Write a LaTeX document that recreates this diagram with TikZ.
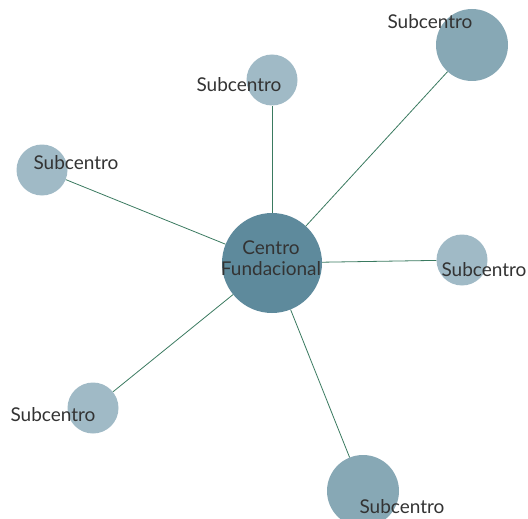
\documentclass[tikz,border=0pt]{standalone}
\usepackage{fontspec}
\setmainfont{Lato}
\usepackage{tikz}
\usetikzlibrary{positioning}

\definecolor{hubfill}{HTML}{5E8A9C}
\definecolor{subfill}{HTML}{A0BAC6}
\definecolor{bigfill}{HTML}{87A8B5}
\definecolor{linkcol}{HTML}{3A7A60}
\definecolor{txtcol}{HTML}{333333}

\begin{document}
\begin{tikzpicture}[
  x=1pt, y=-1pt,
  hub/.style={circle, fill=hubfill, minimum size=100pt, inner sep=0pt},
  sub/.style={circle, fill=subfill, minimum size=51pt, inner sep=0pt},
  bigsub/.style={circle, fill=bigfill, minimum size=72pt, inner sep=0pt},
  lbl/.style={text=txtcol, font=\fontsize{19}{21}\selectfont, inner sep=0pt, align=center},
  link/.style={draw=linkcol, line width=0.8pt}
]
\useasboundingbox (0,0) rectangle (528,519);
\clip (0,0) rectangle (528,519);
\node[hub] (centro) at (272,263) {};
\node[bigsub] (ne) at (472,45) {};
\node[sub] (n) at (272,80) {};
\node[sub] (w) at (42,170) {};
\node[sub] (e) at (462,260) {};
\node[sub] (sw) at (93,408) {};
\node[bigsub] (s) at (363,491) {};
\foreach \k in {ne,n,w,e,sw,s}
  \draw[link] (centro) -- (\k);
\node[lbl] (centrolbl) at (271,258) {Centro\\Fundacional};
\node[lbl] (nelbl) at (430,22) {Subcentro};
\node[lbl] (nlbl) at (239,85) {Subcentro};
\node[lbl] (wlbl) at (76,163) {Subcentro};
\node[lbl] (elbl) at (484,270) {Subcentro};
\node[lbl] (swlbl) at (53,415) {Subcentro};
\node[lbl] (slbl) at (402,507) {Subcentro};
\end{tikzpicture}
\end{document}
